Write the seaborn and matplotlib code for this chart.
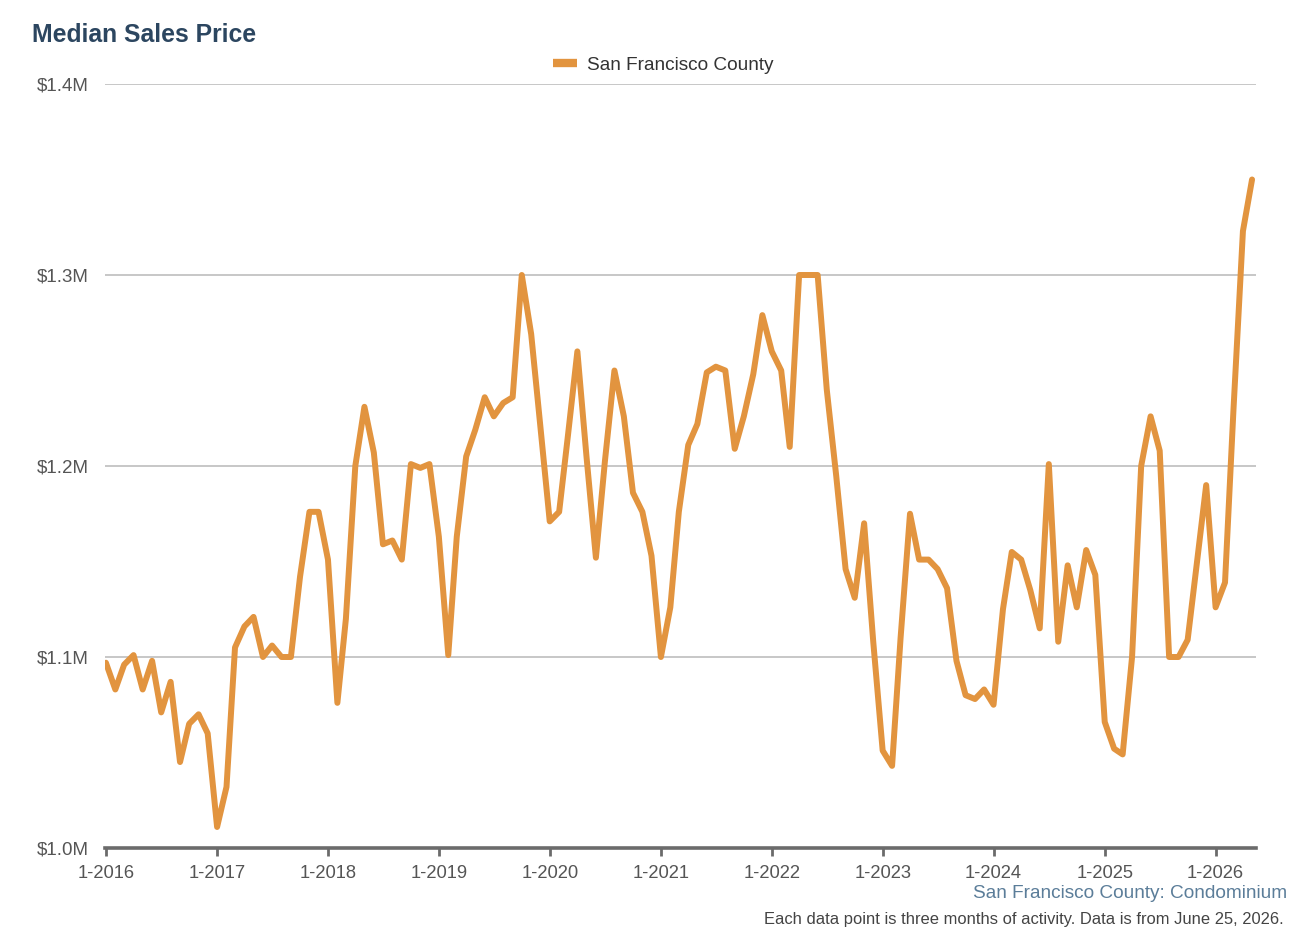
import pandas as pd
import seaborn as sns
import matplotlib.pyplot as plt
import matplotlib.dates as mdates
from matplotlib.ticker import FuncFormatter

# median sales price, $M, one value per month (rolling 3-month)
start_month = "2016-01-01"
median_price = [
    1.097, 1.083, 1.096, 1.101, 1.083, 1.098, 1.071, 1.087, 1.045, 1.065, 1.070, 1.060,
    1.011, 1.032, 1.105, 1.116, 1.121, 1.100, 1.106, 1.100, 1.100, 1.142, 1.176, 1.176,
    1.151, 1.076, 1.120, 1.200, 1.231, 1.207, 1.159, 1.161, 1.151, 1.201, 1.199, 1.201,
    1.163, 1.101, 1.163, 1.205, 1.219, 1.236, 1.226, 1.233, 1.236, 1.300, 1.269, 1.221,
    1.171, 1.176, 1.216, 1.260, 1.205, 1.152, 1.203, 1.250, 1.226, 1.186, 1.176, 1.153,
    1.100, 1.126, 1.176, 1.211, 1.222, 1.249, 1.252, 1.250, 1.209, 1.226, 1.248, 1.279,
    1.260, 1.250, 1.210, 1.300, 1.300, 1.300, 1.240, 1.195, 1.146, 1.131, 1.170, 1.108,
    1.051, 1.043, 1.110, 1.175, 1.151, 1.151, 1.146, 1.136, 1.098, 1.080, 1.078, 1.083,
    1.075, 1.125, 1.155, 1.151, 1.135, 1.115, 1.201, 1.108, 1.148, 1.126, 1.156, 1.143,
    1.066, 1.052, 1.049, 1.100, 1.200, 1.226, 1.208, 1.100, 1.100, 1.109, 1.150, 1.190,
    1.126, 1.139, 1.230, 1.323, 1.350,
]
series_name = "San Francisco County"
y_ticks = [1.0, 1.1, 1.2, 1.3, 1.4]
tick_years = list(range(2016, 2027))

df = pd.DataFrame({
    "month": pd.date_range(start_month, periods=len(median_price), freq="MS"),
    "price": median_price,
    "area": series_name,
})

sns.set_theme(style="white")
plt.rcParams["font.family"] = ["Liberation Sans", "DejaVu Sans"]

line_color = "#e2943f"
fig = plt.figure(figsize=(13.14, 9.38), dpi=100)
ax = fig.add_axes([105 / 1314, 1 - 848 / 938, (1256 - 105) / 1314, (848 - 84) / 938])

sns.lineplot(data=df, x="month", y="price", hue="area", palette=[line_color],
             linewidth=4.3, ax=ax, legend=False)

ax.set_ylim(1.0, 1.4)
ax.set_xlim(pd.Timestamp("2015-12-29"), pd.Timestamp("2026-05-14"))
ax.set_yticks(y_ticks)
ax.yaxis.set_major_formatter(FuncFormatter(lambda v, _: f"${v:.1f}M"))
ax.set_xticks([pd.Timestamp(f"{y}-01-01") for y in tick_years])
ax.xaxis.set_major_formatter(mdates.DateFormatter("1-%Y"))

ax.grid(axis="y", color="#bdbdbd", linewidth=1.2)
ax.set_axisbelow(True)
for side in ["left", "right", "top"]:
    ax.spines[side].set_visible(False)
ax.spines["bottom"].set_color("#6b6b6b")
ax.spines["bottom"].set_linewidth(2.6)
ax.tick_params(axis="y", length=0, pad=12, labelsize=13.5, labelcolor="#555555")
ax.tick_params(axis="x", length=6, width=2, color="#6b6b6b", direction="out",
               pad=6, labelsize=13.2, labelcolor="#555555", bottom=True)
ax.set_xlabel("")
ax.set_ylabel("")

handle = plt.Line2D([], [], color=line_color, linewidth=6, solid_capstyle="butt")
fig.legend([handle], [series_name], loc="center", bbox_to_anchor=(663 / 1314, 1 - 65 / 938),
           frameon=False, fontsize=13.7, handlelength=1.3, handletextpad=0.5,
           labelcolor="#333333")

fig.text(32 / 1314, 1 - 35 / 938, "Median Sales Price", fontsize=17.8, fontweight="bold",
         color="#2c4660", ha="left", va="center")
fig.text(1287 / 1314, 1 - 893 / 938, "San Francisco County: Condominium", fontsize=13.7,
         color="#5b7d99", ha="right", va="center")
fig.text(1284 / 1314, 1 - 919 / 938,
         "Each data point is three months of activity. Data is from June 25, 2026.",
         fontsize=11.9, color="#444444", ha="right", va="center")

fig.savefig("out.png", dpi=100, facecolor="white")
